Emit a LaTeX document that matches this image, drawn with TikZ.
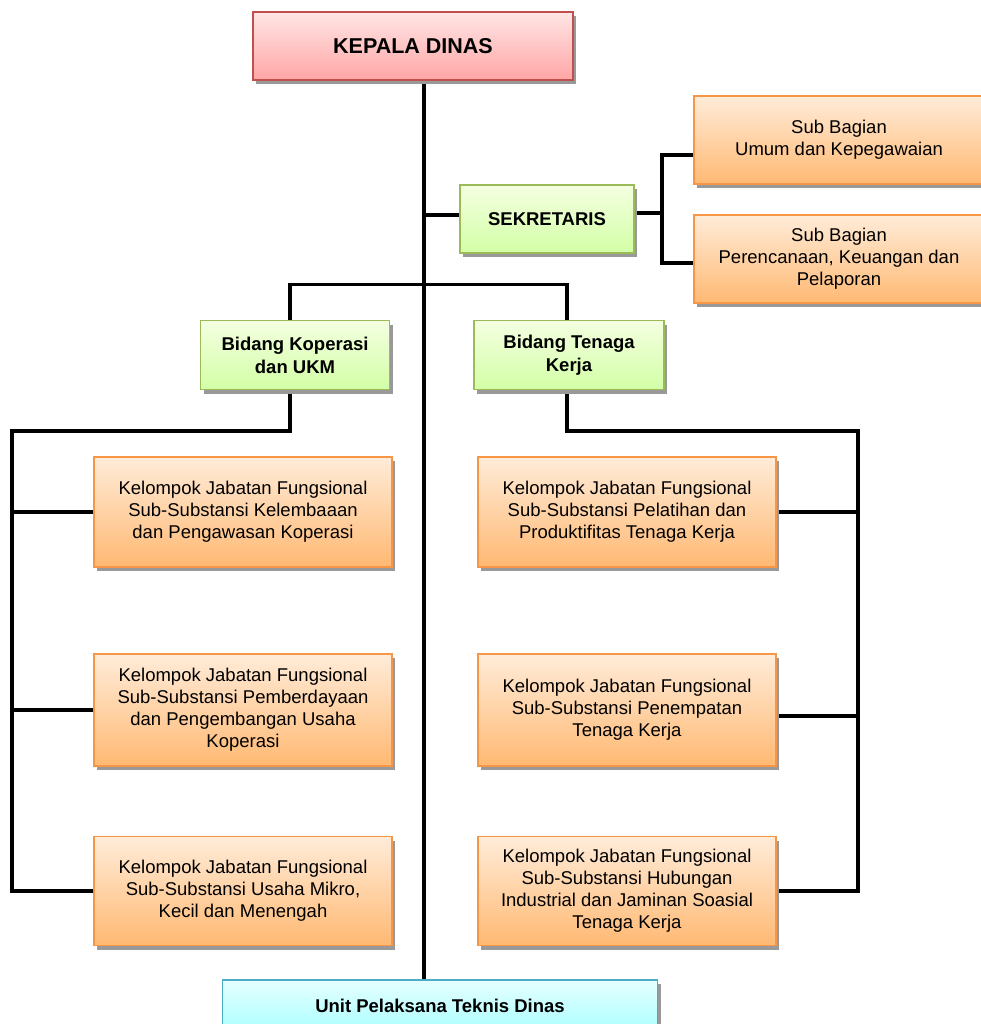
\documentclass[tikz,border=0pt]{standalone}
\usepackage{fontspec}
\setmainfont{Liberation Sans}
\usetikzlibrary{positioning}
\usetikzlibrary{shadows}
\usetikzlibrary{backgrounds}
\definecolor{redline}{HTML}{C0504D}
\definecolor{greenline}{HTML}{9BBB59}
\definecolor{orangeline}{HTML}{F79646}
\definecolor{blueline}{HTML}{4BACC6}
\tikzset{
    box/.style = {rectangle, line width=1.5pt, align=center, font=\fontsize{18.5}{22}\selectfont,
                  drop shadow={shadow xshift=3pt, shadow yshift=-4pt, fill=black!40, opacity=1}},
    boxr/.style = {box, draw=redline, top color=red!10, bottom color=red!35, font=\bfseries\fontsize{21.5}{24}\selectfont},
    boxg/.style = {box, draw=greenline, top color=green!35!yellow!12, bottom color=green!50!yellow!35, font=\bfseries\fontsize{18.5}{23}\selectfont},
    boxo/.style = {box, draw=orangeline, top color=orange!15, bottom color=orange!55},
    boxb/.style = {box, draw=blueline, top color=cyan!10, bottom color=cyan!35, font=\bfseries\fontsize{18.5}{22}\selectfont},
    edgen/.style = {line width=3.2pt, black},
}
\begin{document}
\begin{tikzpicture}[x=1pt,y=-1pt]
\useasboundingbox (0,0) rectangle (980,1024);
%
\node[boxr, minimum width=320, minimum height=68] at (413,46) (kepala) {KEPALA DINAS};
\node[boxg, minimum width=174, minimum height=68] at (547,219) (sek) {SEKRETARIS};
\node[boxo, minimum width=290, minimum height=88] at (839,140) (sub1) {Sub Bagian\\Umum dan Kepegawaian};
\node[boxo, minimum width=290, minimum height=88] at (839,259) (sub2) {\raisebox{-4pt}{\parbox{280pt}{\centering Sub Bagian\\Perencanaan, Keuangan dan\\Pelaporan}}};
\node[boxg, minimum width=189, minimum height=69] at (295,355) (kop) {Bidang Koperasi\\dan UKM};
\node[boxg, minimum width=190, minimum height=69] at (569,355) (tk) {Bidang Tenaga\\Kerja};
\node[boxo, minimum width=298, minimum height=110] at (243,512) (kop1) {Kelompok Jabatan Fungsional\\Sub-Substansi Kelembaaan\\dan Pengawasan Koperasi};
\node[boxo, minimum width=298, minimum height=112] at (243,710) (kop2) {Kelompok Jabatan Fungsional\\Sub-Substansi Pemberdayaan\\dan Pengembangan Usaha\\Koperasi};
\node[boxo, minimum width=298, minimum height=109] at (243,891) (kop3) {Kelompok Jabatan Fungsional\\Sub-Substansi Usaha Mikro,\\Kecil dan Menengah};
\node[boxo, minimum width=298, minimum height=110] at (627,512) (tk1) {Kelompok Jabatan Fungsional\\Sub-Substansi Pelatihan dan\\Produktifitas Tenaga Kerja};
\node[boxo, minimum width=298, minimum height=112] at (627,710) (tk2) {Kelompok Jabatan Fungsional\\Sub-Substansi Penempatan\\Tenaga Kerja};
\node[boxo, minimum width=298, minimum height=109] at (627,891) (tk3) {Kelompok Jabatan Fungsional\\Sub-Substansi Hubungan\\Industrial dan Jaminan Soasial\\Tenaga Kerja};
\node[boxb, minimum width=435, minimum height=56] at (440,1008) (upt) {\raisebox{4pt}{Unit Pelaksana Teknis Dinas}};
%
\coordinate (spine) at (424,0);
\coordinate (sekbus) at (662,0);
\coordinate (kopbus) at (12,431);
\coordinate (tkbus) at (858,431);
%
\begin{scope}[on background layer]
\draw[edgen] (spine |- kepala.south) -- (spine |- upt.north);
\draw[edgen] ([yshift=4pt]sek.west -| spine) -- ([yshift=4pt]sek.west);
\draw[edgen] ([yshift=6pt]sek.east) -- ([yshift=6pt]sek.east -| sekbus);
\draw[edgen] ([yshift=-15pt]sub1.west) -- ([yshift=-15pt]sub1.west -| sekbus) -- ([yshift=-4pt]sub2.west -| sekbus) -- ([yshift=-4pt]sub2.west);
\draw[edgen] ([xshift=-5pt]kop.north) -- ++(0,-35) -| ([xshift=-2pt]tk.north);
\draw[edgen] ([xshift=-5pt]kop.south) |- (kopbus) -- (kopbus |- kop3.west) -- (kop3.west);
\draw[edgen] (kop1.west) -- (kop1.west -| kopbus);
\draw[edgen] (kop2.west) -- (kop2.west -| kopbus);
\draw[edgen] ([xshift=-2pt]tk.south) |- (tkbus) -- (tkbus |- tk3.east) -- (tk3.east);
\draw[edgen] (tk1.east) -- (tk1.east -| tkbus);
\draw[edgen] ([yshift=-6pt]tk2.east) -- ([yshift=-6pt]tk2.east -| tkbus);
\end{scope}
\end{tikzpicture}
\end{document}
